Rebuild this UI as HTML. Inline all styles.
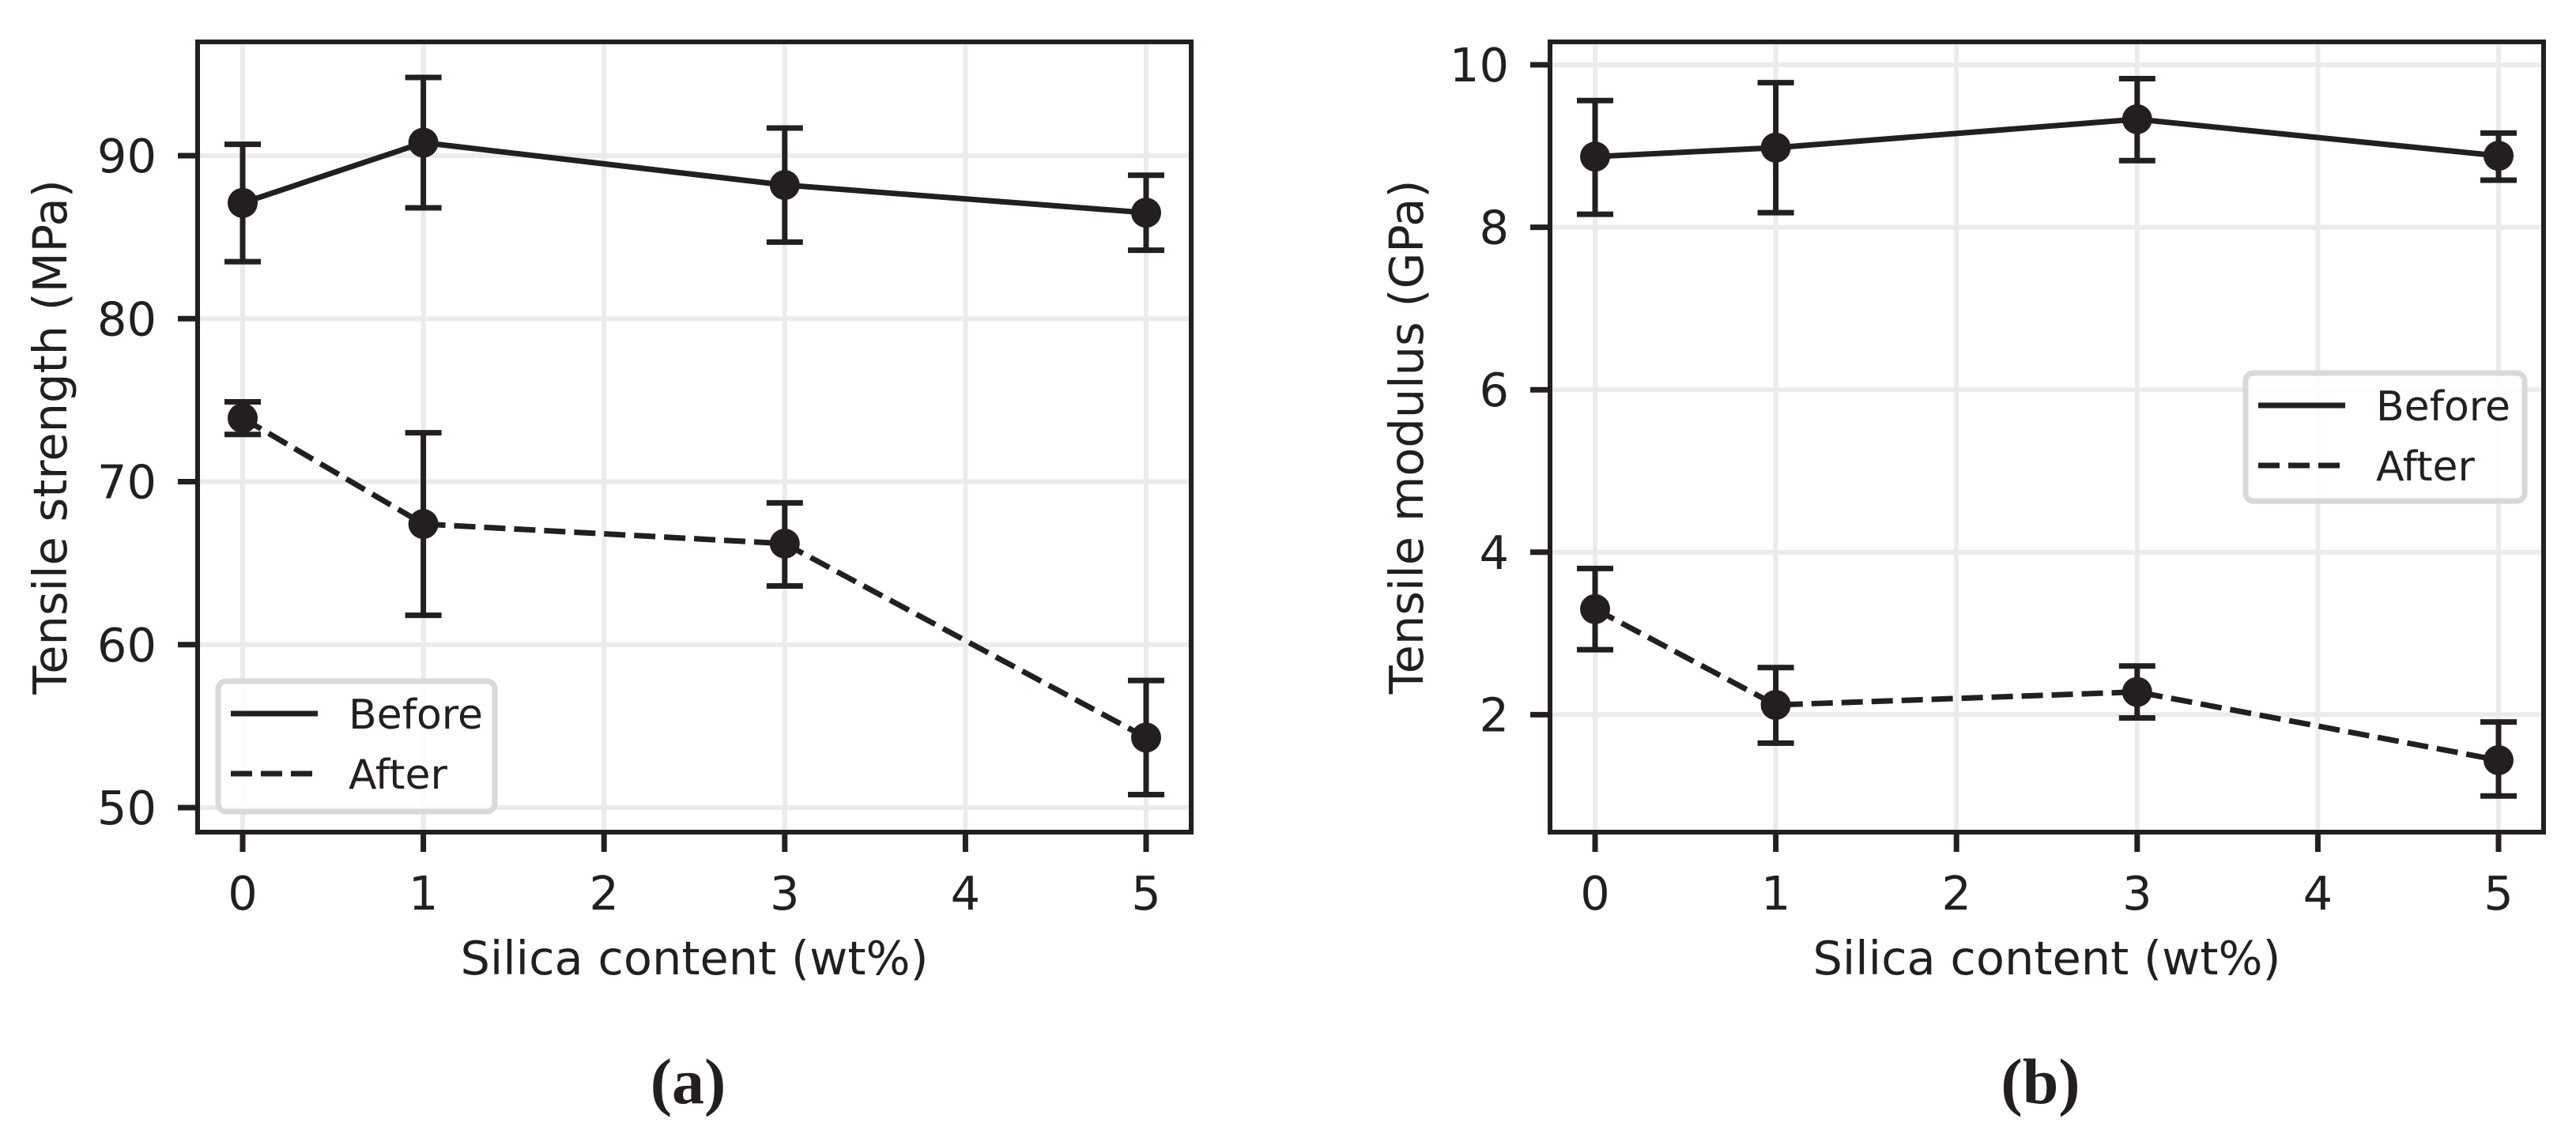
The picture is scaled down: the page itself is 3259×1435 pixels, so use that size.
<!DOCTYPE html>
<html><head><meta charset="utf-8"><style>
html,body{margin:0;padding:0;background:#fff;}
svg{display:block;}
text{font-family:"DejaVu Sans","Liberation Sans",sans-serif;fill:#231f20;}
</style></head><body>
<svg id="fig" width="3259" height="1435" viewBox="0 0 3259 1435"></svg>
<script>
const categories = [0, 1, 3, 5];
const xTicks = [0, 1, 2, 3, 4, 5];
const strengthBefore = [87.1, 90.8, 88.2, 86.5];
const strengthBeforeLo = [83.5, 86.8, 84.7, 84.2];
const strengthBeforeHi = [90.7, 94.8, 91.7, 88.8];
const strengthAfter = [73.9, 67.4, 66.2, 54.3];
const strengthAfterLo = [72.9, 61.8, 63.6, 50.8];
const strengthAfterHi = [74.9, 73.0, 68.7, 57.8];
const strengthTicks = [50, 60, 70, 80, 90];
const modulusBefore = [8.87, 8.98, 9.33, 8.88];
const modulusBeforeLo = [8.16, 8.18, 8.82, 8.58];
const modulusBeforeHi = [9.56, 9.78, 9.83, 9.16];
const modulusAfter = [3.30, 2.12, 2.28, 1.44];
const modulusAfterLo = [2.80, 1.65, 1.96, 1.00];
const modulusAfterHi = [3.80, 2.58, 2.60, 1.91];
const modulusTicks = [2, 4, 6, 8, 10];

const NS = "http://www.w3.org/2000/svg";
const svg = document.getElementById('fig');
const C = '#231f20';
const SW = 7;
const DASH = '27 11';
function mk(tag, attrs, parent) {
  const e = document.createElementNS(NS, tag);
  for (const k in attrs) e.setAttribute(k, attrs[k]);
  (parent || svg).appendChild(e);
  return e;
}

function panel(cfg) {
  const g = mk('g', {});
  
  
  const X = v => cfg.x0 + v * cfg.xUnit;
  const Y = v => cfg.yRef + (cfg.yRefVal - v) * cfg.yUnit;
  xTicks.forEach(t => {
    const l = mk('line', {x1: X(t), x2: X(t), y1: cfg.top, y2: cfg.bottom, stroke: '#ebebeb', 'stroke-width': 6}, g);
    
    
  });
  cfg.yTicks.forEach(t => {
    const l = mk('line', {x1: cfg.left, x2: cfg.right, y1: Y(t), y2: Y(t), stroke: '#ebebeb', 'stroke-width': 6}, g);
    
    
  });
  const series = [
    {v: cfg.before, lo: cfg.beforeLo, hi: cfg.beforeHi, dash: null, name: 'before'},
    {v: cfg.after, lo: cfg.afterLo, hi: cfg.afterHi, dash: DASH, name: 'after'}
  ];
  series.forEach(s => {
    const pts = categories.map((c, i) => X(c) + ',' + Y(s.v[i])).join(' ');
    const pl = mk('polyline', {points: pts, fill: 'none', stroke: C, 'stroke-width': SW, 'stroke-linejoin': 'round'}, g);
    if (s.dash) pl.setAttribute('stroke-dasharray', s.dash);
    
    
    categories.forEach((c, i) => {
      const x = X(c);
      const eb = mk('g', {stroke: C, 'stroke-width': SW}, g);
      
      
      mk('line', {x1: x, x2: x, y1: Y(s.lo[i]), y2: Y(s.hi[i])}, eb);
      mk('line', {x1: x - 23, x2: x + 23, y1: Y(s.lo[i]), y2: Y(s.lo[i])}, eb);
      mk('line', {x1: x - 23, x2: x + 23, y1: Y(s.hi[i]), y2: Y(s.hi[i])}, eb);
      const m = mk('circle', {cx: x, cy: Y(s.v[i]), r: 19, fill: C}, g);
      
      
    });
  });
  const fr = mk('rect', {x: cfg.left, y: cfg.top, width: cfg.right - cfg.left, height: cfg.bottom - cfg.top, fill: 'none', stroke: C, 'stroke-width': 6}, g);
  
  
  xTicks.forEach(t => {
    mk('line', {x1: X(t), x2: X(t), y1: cfg.bottom, y2: cfg.bottom + 25, stroke: C, 'stroke-width': SW}, g);
    const tx = mk('text', {x: X(t), y: cfg.bottom + 98, 'font-size': 59, 'text-anchor': 'middle'}, g);
    tx.textContent = t;
    
    
  });
  cfg.yTicks.forEach(t => {
    mk('line', {x1: cfg.left - 25, x2: cfg.left, y1: Y(t), y2: Y(t), stroke: C, 'stroke-width': SW}, g);
    const tx = mk('text', {x: cfg.left - 52, y: Y(t) + 21, 'font-size': 59, 'text-anchor': 'end'}, g);
    tx.textContent = t;
    
    
  });
  const xl = mk('text', {x: (cfg.left + cfg.right) / 2, y: 1233, 'font-size': 59, 'text-anchor': 'middle'}, g);
  xl.textContent = 'Silica content (wt%)';
  
  
  const ym = (cfg.top + cfg.bottom) / 2;
  const yl = mk('text', {x: cfg.yLabelX, y: ym, 'font-size': 59, 'text-anchor': 'middle', transform: 'rotate(-90 ' + cfg.yLabelX + ' ' + ym + ')'}, g);
  yl.textContent = cfg.yLabel;
  
  
  const L = cfg.legend;
  const lg = mk('g', {}, g);
  
  
  mk('rect', {x: L.x, y: L.y, width: L.w, height: L.h, rx: 10, fill: '#fff', 'fill-opacity': 0.85, stroke: '#d9d9d9', 'stroke-width': 7}, lg);
  [['Before', null], ['After', DASH]].forEach((e, i) => {
    const ly = L.y + 41 + i * 76;
    const ln = mk('line', {x1: L.x + 16, x2: L.x + 126, y1: ly, y2: ly, stroke: C, 'stroke-width': SW}, lg);
    if (e[1]) ln.setAttribute('stroke-dasharray', e[1]);
    
    
    const t = mk('text', {x: L.x + 165, y: ly + 19, 'font-size': 52}, lg);
    t.textContent = e[0];
    
    
  });
  const cap = mk('text', {x: (cfg.left + cfg.right) / 2 - 8, y: 1396, 'font-size': 82, 'text-anchor': 'middle', 'font-weight': 'bold', style: 'font-family:"Liberation Serif",serif'}, g);
  cap.textContent = cfg.caption;
  
  
}

panel({name: 'tensile-strength-chart', left: 250, right: 1507, top: 53, bottom: 1053,
  x0: 307, xUnit: 228.6, yRef: 197, yRefVal: 90, yUnit: 20.625, yTicks: strengthTicks,
  before: strengthBefore, beforeLo: strengthBeforeLo, beforeHi: strengthBeforeHi,
  after: strengthAfter, afterLo: strengthAfterLo, afterHi: strengthAfterHi,
  yLabel: 'Tensile strength (MPa)', yLabelX: 84,
  legend: {x: 276, y: 862, w: 350, h: 165}, caption: '(a)'});
panel({name: 'tensile-modulus-chart', left: 1961, right: 3218, top: 53, bottom: 1053,
  x0: 2018, xUnit: 228.6, yRef: 82, yRefVal: 10, yUnit: 102.8, yTicks: modulusTicks,
  before: modulusBefore, beforeLo: modulusBeforeLo, beforeHi: modulusBeforeHi,
  after: modulusAfter, afterLo: modulusAfterLo, afterHi: modulusAfterHi,
  yLabel: 'Tensile modulus (GPa)', yLabelX: 1800,
  legend: {x: 2841, y: 472, w: 353, h: 162}, caption: '(b)'});
</script>
</body></html>
